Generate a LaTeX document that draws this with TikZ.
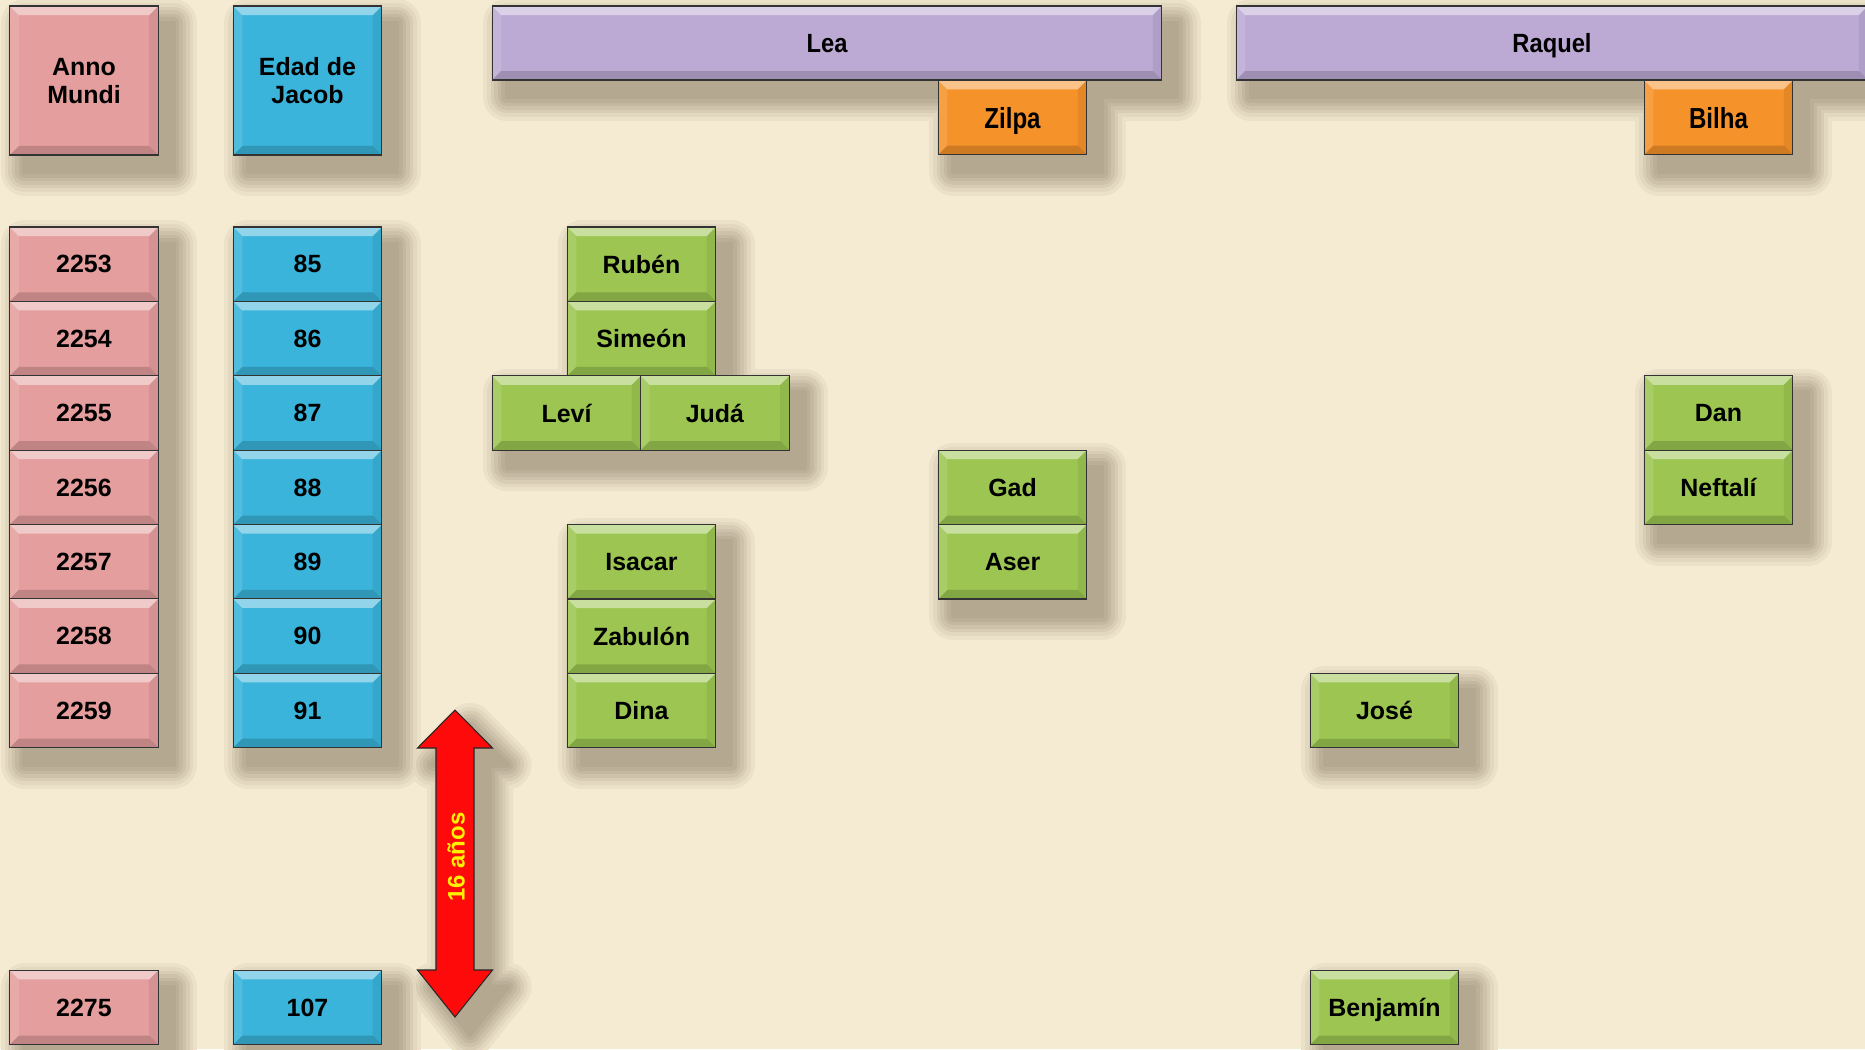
\documentclass[tikz,border=0pt]{standalone}
\usepackage{fontspec}
\setmainfont{Liberation Sans}
\usetikzlibrary{positioning,backgrounds}

\definecolor{paper}{HTML}{F5EAD2}
\definecolor{amcol}{HTML}{E59E9E}
\definecolor{agecol}{HTML}{3AB4DA}
\definecolor{wifecol}{HTML}{BDAAD4}
\definecolor{maidcol}{HTML}{F5922A}
\definecolor{soncol}{HTML}{9CC651}
\definecolor{spancol}{HTML}{FF0A0A}
\definecolor{shade}{HTML}{4A3C28}

% raised edge of a box
\newcommand\bevel{%
  \fill[white,opacity=0.45] (path picture bounding box.north west) -- (path picture bounding box.north east)
    -- ([shift={(-0.18cm,-0.18cm)}]path picture bounding box.north east)
    -- ([shift={(0.18cm,-0.18cm)}]path picture bounding box.north west) -- cycle;
  \fill[black,opacity=0.16] (path picture bounding box.south west) -- (path picture bounding box.south east)
    -- ([shift={(-0.18cm,0.18cm)}]path picture bounding box.south east)
    -- ([shift={(0.18cm,0.18cm)}]path picture bounding box.south west) -- cycle;
  \fill[white,opacity=0.12] (path picture bounding box.north west) -- (path picture bounding box.south west)
    -- ([shift={(0.18cm,0.18cm)}]path picture bounding box.south west)
    -- ([shift={(0.18cm,-0.18cm)}]path picture bounding box.north west) -- cycle;
  \fill[black,opacity=0.07] (path picture bounding box.north east) -- (path picture bounding box.south east)
    -- ([shift={(-0.18cm,0.18cm)}]path picture bounding box.south east)
    -- ([shift={(-0.18cm,-0.18cm)}]path picture bounding box.north east) -- cycle;
}
\newcommand\narrow[2][0.86]{\scalebox{#1}[1]{#2}}

\tikzset{
  cell/.style={draw=black!80, line width=0.6pt, inner sep=0pt, outer sep=0pt,
    minimum width=2.97cm, minimum height=1.488cm, align=center, text depth=0pt,
    font=\bfseries\fontsize{14.2}{16}\selectfont, path picture={\bevel}},
  year/.style={cell, fill=amcol},
  age/.style={cell, fill=agecol},
  son/.style={cell, fill=soncol},
  maid/.style={cell, fill=maidcol, font=\bfseries\fontsize{16.5}{18}\selectfont},
  wife/.style={cell, fill=wifecol, minimum height=1.48cm, font=\bfseries\fontsize{15}{17}\selectfont},
  shadowlayer/.style={line join=round},
  spanarrow/.style={fill=spancol, draw=black!85, line width=0.6pt}
}

\begin{document}
\begin{tikzpicture}[x=0.02cm,y=-0.02cm]
  \useasboundingbox (0,0) rectangle (1865,1049);

  % headers
  \node (am) [year, minimum height=2.98cm] at (84,80.5) {Anno\\Mundi};
  \node (edad) [age, minimum height=2.98cm] at (307.5,80.5) {Edad de\\Jacob};
  \node (lea) [wife, minimum width=13.4cm] at (827,43) {\narrow[0.9]{Lea}};
  \node (zilpa) [maid] at (1012.5,117.5) {\narrow[0.83]{Zilpa}};
  \node (raquel) [wife, minimum width=12.64cm] at (1552,43) {\narrow[0.9]{Raquel}};
  \node (bilha) [maid] at (1718.5,117.5) {\narrow[0.83]{Bilha}};

  % years
  \node (y2253) [year] at (84,264.2) {2253};
  \node (y2254) [year, below=0pt of y2253] {2254};
  \node (y2255) [year, below=0pt of y2254] {2255};
  \node (y2256) [year, below=0pt of y2255] {2256};
  \node (y2257) [year, below=0pt of y2256] {2257};
  \node (y2258) [year, below=0pt of y2257] {2258};
  \node (y2259) [year, below=0pt of y2258] {2259};
  \node (y2275) [year] at (84,1007.5) {2275};

  % age of Jacob
  \node (a85) [age] at (307.5,264.2) {85};
  \node (a86) [age, below=0pt of a85] {86};
  \node (a87) [age, below=0pt of a86] {87};
  \node (a88) [age, below=0pt of a87] {88};
  \node (a89) [age, below=0pt of a88] {89};
  \node (a90) [age, below=0pt of a89] {90};
  \node (a91) [age, below=0pt of a90] {91};
  \node (a107) [age] at (307.5,1007.5) {107};

  % sons of Lea
  \node (ruben) [son] at (641.5,264.2) {Rubén};
  \node (simeon) [son, below=0pt of ruben] {Simeón};
  \node (levi) [son] at (566.5,413) {Leví};
  \node (juda) [son, right=0pt of levi] {Judá};
  \node (isacar) [son] at (641.5,561.8) {Isacar};
  \node (zabulon) [son, below=0pt of isacar] {Zabulón};
  \node (dina) [son, below=0pt of zabulon] {Dina};

  % sons of Zilpa
  \node (gad) [son] at (1012.5,487.4) {Gad};
  \node (aser) [son, below=0pt of gad] {Aser};

  % sons of Raquel
  \node (jose) [son] at (1384.5,710.6) {José};
  \node (benjamin) [son] at (1384.5,1007.5) {Benjamín};

  % sons of Bilha
  \node (dan) [son] at (1718.5,413) {Dan};
  \node (neftali) [son, below=0pt of dan] {Neftalí};

  % span between 2259 and 2275
  \draw[spanarrow] (455,710) -- (492.5,748) -- (474,748) -- (474,970) -- (492.5,970) -- (455,1017)
    -- (417.5,970) -- (436,970) -- (436,748) -- (417.5,748) -- cycle;
  \node (span) [rotate=90, text=yellow, font=\bfseries\fontsize{13.6}{15}\selectfont] at (456,857) {16 años};

  % paper and soft shadows behind everything
  \begin{scope}[on background layer]
    \fill[paper] (0,0) rectangle (1865,1049);
    \foreach \lw/\mix in {0.96cm/6,0.80cm/11,0.66cm/17,0.52cm/23,0.38cm/29,0.24cm/34,0.10cm/38}{
      \foreach \from/\to in {am/am,edad/edad,y2253/y2259,a85/a91,lea/lea,zilpa/zilpa,raquel/raquel,
          bilha/bilha,ruben/simeon,levi/juda,isacar/dina,gad/aser,jose/jose,benjamin/benjamin,
          dan/neftali,y2275/y2275,a107/a107}
        \filldraw[shadowlayer, line width=\lw, draw=shade!\mix!paper, fill=shade!\mix!paper]
          ([shift={(15,17)}]\from.north west) rectangle ([shift={(15,17)}]\to.south east);
      \filldraw[shadowlayer, shift={(15,17)}, line width=\lw, draw=shade!\mix!paper, fill=shade!\mix!paper]
        (455,710) -- (492.5,748) -- (474,748) -- (474,970) -- (492.5,970) -- (455,1017)
        -- (417.5,970) -- (436,970) -- (436,748) -- (417.5,748) -- cycle;
    }
  \end{scope}
\end{tikzpicture}
\end{document}
